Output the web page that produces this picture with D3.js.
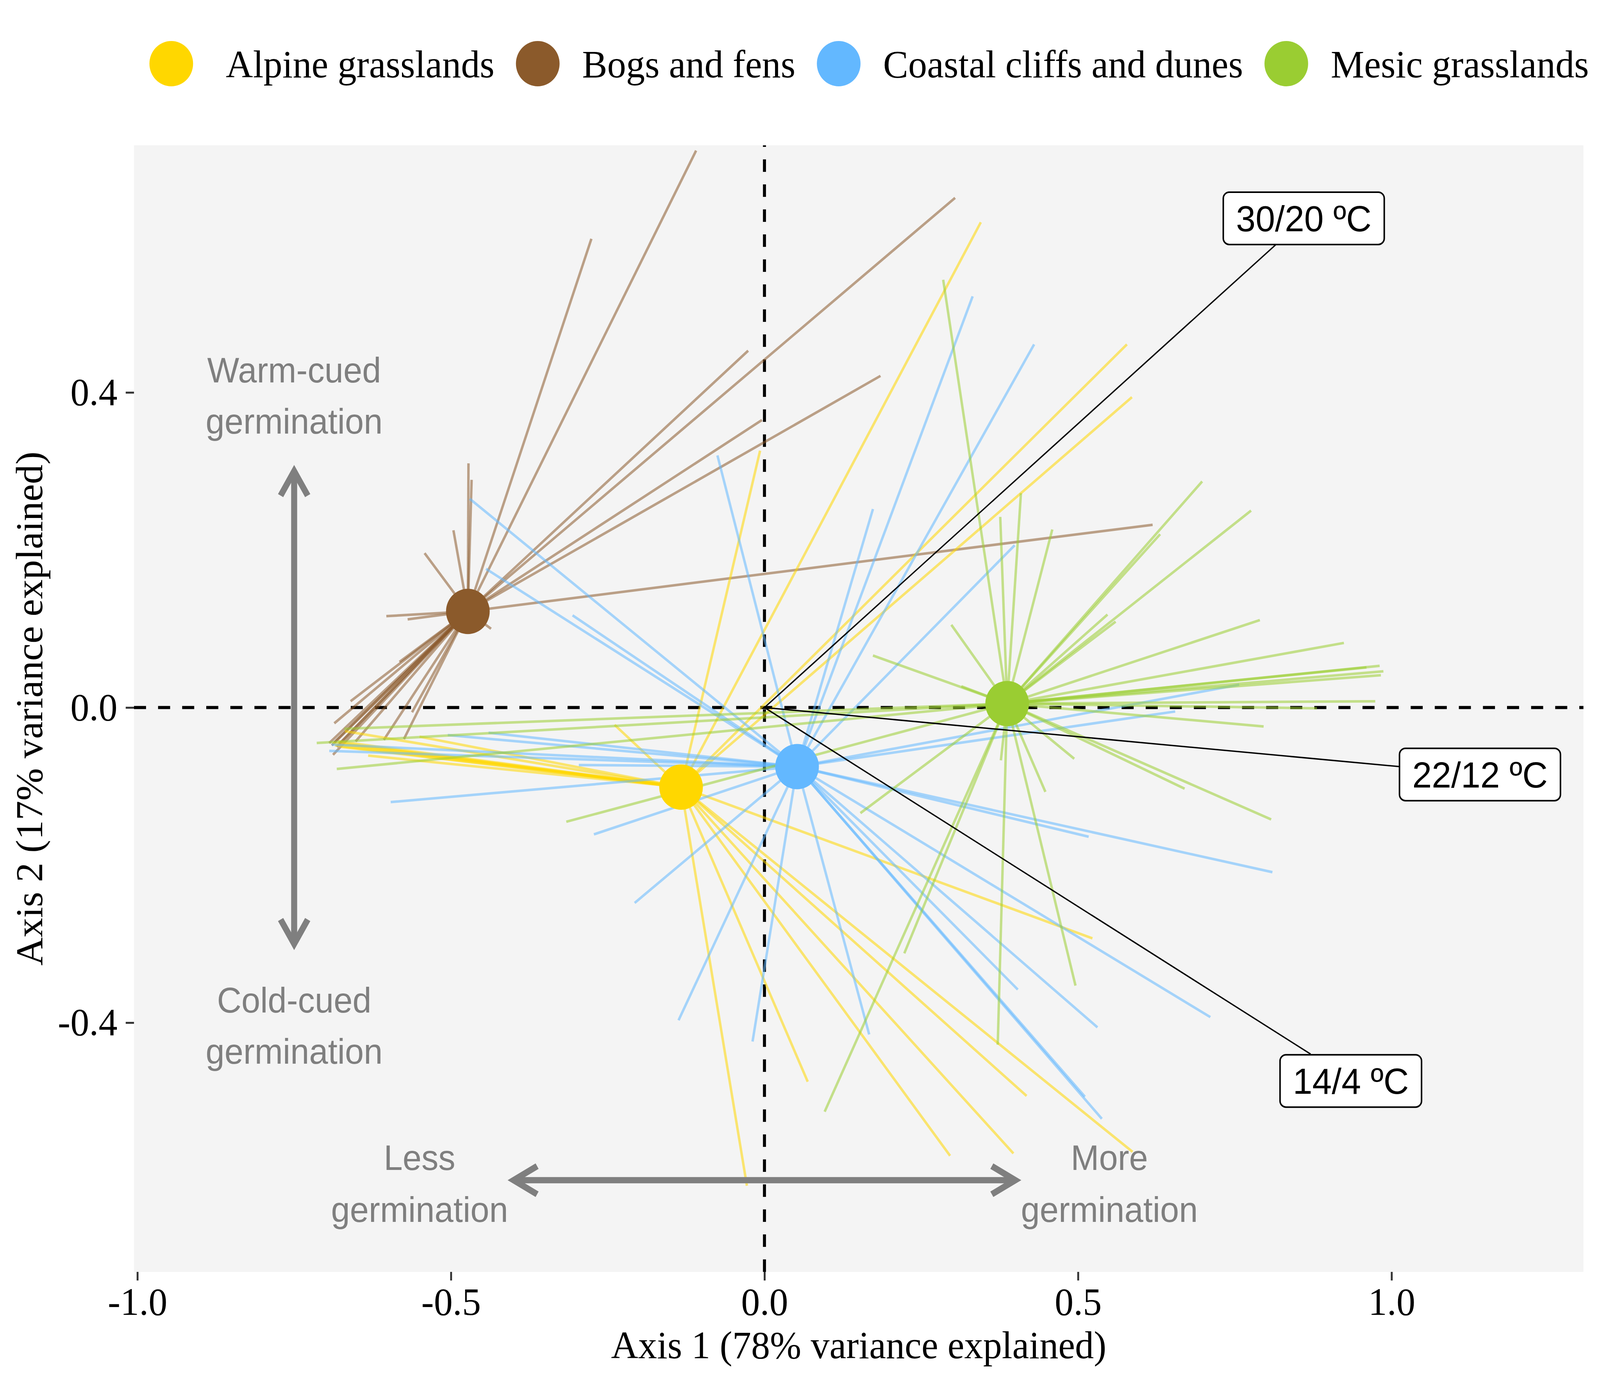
<!DOCTYPE html>
<html>
<head>
<meta charset="utf-8">
<script src="https://cdnjs.cloudflare.com/ajax/libs/d3/7.8.5/d3.min.js"></script>
<style>
  html, body { margin: 0; padding: 0; background: #ffffff; width: 100%; height: 100%; overflow: hidden; }
  #chart { width: 100vw; height: 100vh; }
  svg { display: block; width: 100%; height: 100%; }
</style>
</head>
<body>
<div id="chart"></div>
<script>
//groups
var groups = ["Alpine grasslands", "Bogs and fens", "Coastal cliffs and dunes", "Mesic grasslands"];
var groupColours = ["#FFD700", "#8B5A2B", "#63B8FF", "#9ACD32"];

//group centroids (axis 1, axis 2)
var centroids = [[-0.133, -0.101], [-0.473, 0.122], [0.052, -0.075], [0.387, 0.005]];

//species scores, one list per group
var alpineSpecies = [
    [-0.689, -0.045], [-0.685, -0.048], [-0.680, -0.043], [-0.675, -0.050], [-0.670, -0.046],
    [-0.669, -0.030], [-0.632, -0.061], [-0.550, -0.037], [-0.239, -0.022],
    [-0.007, 0.326], [0.345, 0.616], [0.578, 0.461], [0.586, 0.394],
    [-0.028, -0.607], [0.069, -0.475], [0.296, -0.569], [0.397, -0.566],
    [0.418, -0.493], [0.587, -0.564], [0.523, -0.293]
];
var bogSpecies = [
    [-0.109, 0.707], [-0.276, 0.595], [-0.026, 0.453], [-0.004, 0.365], [0.304, 0.647],
    [0.185, 0.421], [0.619, 0.232],
    [-0.472, 0.310], [-0.467, 0.289], [-0.496, 0.225], [-0.542, 0.196], [-0.603, 0.116],
    [-0.569, 0.112], [-0.436, 0.100],
    [-0.660, 0.008], [-0.582, 0.058], [-0.686, -0.020], [-0.694, -0.045], [-0.690, -0.048],
    [-0.686, -0.044], [-0.682, -0.050], [-0.678, -0.046], [-0.688, -0.060], [-0.652, -0.043],
    [-0.607, -0.041], [-0.575, -0.040], [-0.562, -0.006]
];
var coastalSpecies = [
    [-0.694, -0.055], [-0.690, -0.047], [-0.505, -0.035], [-0.440, -0.032], [-0.296, -0.073],
    [-0.596, -0.120], [-0.272, -0.161], [-0.207, -0.248], [-0.306, 0.117], [-0.470, 0.265],
    [-0.444, 0.176], [-0.075, 0.320],
    [0.173, 0.252], [0.332, 0.522], [0.430, 0.461], [0.399, 0.206],
    [0.757, 0.029], [0.655, -0.005], [0.517, -0.164], [0.810, -0.209],
    [0.711, -0.393], [0.531, -0.406], [0.404, -0.358], [0.511, -0.494], [0.538, -0.522],
    [0.167, -0.415], [-0.019, -0.424], [-0.137, -0.397]
];
var mesicSpecies = [
    [0.698, 0.287], [0.776, 0.250], [0.631, 0.220], [0.547, 0.118], [0.560, 0.109],
    [0.790, 0.111], [0.924, 0.082], [0.981, 0.053], [0.987, 0.046], [0.983, 0.041],
    [0.960, 0.051], [0.974, 0.008], [0.881, -0.001], [0.796, -0.024], [0.808, -0.142],
    [0.670, -0.103], [0.494, -0.065], [0.448, -0.107], [0.377, -0.067], [0.298, 0.105],
    [0.314, 0.027], [0.376, 0.242], [0.409, 0.272], [0.459, 0.226], [0.285, 0.543],
    [0.173, 0.066], [0.153, -0.134], [0.223, -0.312], [0.096, -0.513], [0.372, -0.428],
    [0.496, -0.353], [-0.316, -0.145], [-0.714, -0.045], [-0.682, -0.078], [-0.670, -0.027]
];

//temperature vectors and their labels
var tempLabels = ["30/20 ºC", "22/12 ºC", "14/4 ºC"];
var tempLineEnd = [[0.816, 0.588], [1.013, -0.075], [0.871, -0.440]];
var tempLabelPos = [[0.860, 0.621], [1.141, -0.085], [0.935, -0.474]];

//axis ticks
var xTicks = [-1, -0.5, 0, 0.5, 1];
var yTicks = [-0.4, 0, 0.4];

//svg
var width = 4251, height = 3543;
var panel = {left: 356, right: 4207, top: 372, bottom: 3256};
var serif = "'Liberation Serif', 'Times New Roman', serif";
var sans = "'Liberation Sans', Arial, sans-serif";
var grey = "#7F7F7F";

//fill the whole window with the 4251x3543 drawing
var svg = d3.select("#chart").append("svg")
    .attr("viewBox", "0 0 " + width + " " + height)
    .attr("preserveAspectRatio", "none");

svg.append("rect").attr("width", width).attr("height", height).attr("fill", "#ffffff");

//scales
var x = d3.scaleLinear().domain([-1.0054, 1.306]).range([panel.left, panel.right]);
var y = d3.scaleLinear().domain([-0.7164, 0.7137]).range([panel.bottom, panel.top]);

//panel
svg.append("rect")
    .attr("x", panel.left).attr("y", panel.top)
    .attr("width", panel.right - panel.left)
    .attr("height", panel.bottom - panel.top)
    .attr("fill", "#F4F4F4");

//dashed zero lines
svg.append("line")
    .attr("x1", panel.left).attr("x2", panel.right)
    .attr("y1", y(0)).attr("y2", y(0))
    .attr("stroke", "#000").attr("stroke-width", 8).attr("stroke-dasharray", "32,32");
svg.append("line")
    .attr("x1", x(0)).attr("x2", x(0))
    .attr("y1", panel.bottom).attr("y2", panel.top)
    .attr("stroke", "#000").attr("stroke-width", 8).attr("stroke-dasharray", "32,32");

//spokes from centroid to species
var speciesByGroup = [alpineSpecies, bogSpecies, coastalSpecies, mesicSpecies];
var spokes = [];
speciesByGroup.forEach(function(list, g) {
    list.forEach(function(p) {
        spokes.push({g: g, x0: centroids[g][0], y0: centroids[g][1], x1: p[0], y1: p[1]});
    });
});
//draw bogs first, then alpine, coastal, mesic
var drawOrder = [1, 0, 2, 3];
drawOrder.forEach(function(g) {
    svg.append("g").selectAll("line")
        .data(spokes.filter(function(d) { return d.g === g; }))
        .enter().append("line")
        .attr("x1", function(d) { return x(d.x0); })
        .attr("y1", function(d) { return y(d.y0); })
        .attr("x2", function(d) { return x(d.x1); })
        .attr("y2", function(d) { return y(d.y1); })
        .attr("stroke", groupColours[g])
        .attr("stroke-opacity", 0.55)
        .attr("stroke-width", 6.5);
});

//grey guide arrows
function arrowHead(tx, ty, ux, uy) {
    //tip at (tx,ty), (ux,uy) points back along the shaft
    var len = 72, a = Math.PI / 6;
    var c = Math.cos(a), s = Math.sin(a);
    var w1 = [tx + len * (ux * c - uy * s), ty + len * (ux * s + uy * c)];
    var w2 = [tx + len * (ux * c + uy * s), ty + len * (-ux * s + uy * c)];
    return "M" + w1[0] + "," + w1[1] + "L" + tx + "," + ty + "L" + w2[0] + "," + w2[1];
}
var guides = svg.append("g")
    .attr("stroke", grey).attr("stroke-width", 16).attr("fill", "none")
    .attr("stroke-linejoin", "miter").attr("stroke-miterlimit", 10);
//vertical
var vx = x(-0.75), vTop = y(0.3), vBot = y(-0.3);
guides.append("line").attr("x1", vx).attr("x2", vx).attr("y1", vTop).attr("y2", vBot);
guides.append("path").attr("d", arrowHead(vx, vTop, 0, 1));
guides.append("path").attr("d", arrowHead(vx, vBot, 0, -1));
//horizontal
var hy = y(-0.6), hLeft = x(-0.4), hRight = x(0.4);
guides.append("line").attr("x1", hLeft).attr("x2", hRight).attr("y1", hy).attr("y2", hy);
guides.append("path").attr("d", arrowHead(hLeft, hy, 1, 0));
guides.append("path").attr("d", arrowHead(hRight, hy, -1, 0));

//guide text
var notes = [
    {x: -0.75, y: 0.396, lines: ["Warm-cued", "germination"], gap: 131},
    {x: -0.75, y: -0.404, lines: ["Cold-cued", "germination"], gap: 131},
    {x: -0.55, y: -0.604, lines: ["Less", "germination"], gap: 133},
    {x: 0.55, y: -0.604, lines: ["More", "germination"], gap: 133}
];
notes.forEach(function(n) {
    var t = svg.append("text")
        .attr("x", x(n.x))
        .attr("text-anchor", "middle")
        .attr("font-family", sans)
        .attr("font-size", 90)
        .attr("fill", grey);
    n.lines.forEach(function(l, i) {
        t.append("tspan")
            .attr("x", x(n.x))
            .attr("y", y(n.y) + (i - 0.5) * n.gap + 32)
            .text(l);
    });
});

//centroids
svg.append("g").selectAll("circle")
    .data(centroids)
    .enter().append("circle")
    .attr("cx", function(d) { return x(d[0]); })
    .attr("cy", function(d) { return y(d[1]); })
    .attr("r", 58)
    .attr("fill", function(d, i) { return groupColours[i]; });

//temperature vectors
svg.append("g").selectAll("line")
    .data(tempLineEnd)
    .enter().append("line")
    .attr("x1", x(0)).attr("y1", y(0))
    .attr("x2", function(d) { return x(d[0]); })
    .attr("y2", function(d) { return y(d[1]); })
    .attr("stroke", "#000").attr("stroke-width", 3.5);

tempLabels.forEach(function(lab, i) {
    var cx = x(tempLabelPos[i][0]), cy = y(tempLabelPos[i][1]);
    var g = svg.append("g");
    var rect = g.append("rect");
    var t = g.append("text")
        .attr("x", cx).attr("y", cy + 33)
        .attr("text-anchor", "middle")
        .attr("font-family", sans)
        .attr("font-size", 93)
        .attr("fill", "#000")
        .text(lab);
    var w = t.node().getComputedTextLength() + 68;
    rect.attr("x", cx - w / 2).attr("y", cy - 67)
        .attr("width", w).attr("height", 134)
        .attr("rx", 16).attr("ry", 16)
        .attr("fill", "#fff").attr("stroke", "#000").attr("stroke-width", 4);
});

//axes
var fmt = function(d) { return d3.format(".1f")(d).replace("\u2212", "-"); };
var xAxis = svg.append("g")
    .attr("transform", "translate(0," + panel.bottom + ")")
    .call(d3.axisBottom(x).tickValues(xTicks).tickSize(22).tickPadding(17).tickFormat(fmt));
var yAxis = svg.append("g")
    .attr("transform", "translate(" + panel.left + ",0)")
    .call(d3.axisLeft(y).tickValues(yTicks).tickSize(22).tickPadding(22).tickFormat(fmt));
[xAxis, yAxis].forEach(function(a) {
    a.select(".domain").remove();
    a.selectAll(".tick line").attr("stroke", "#333333").attr("stroke-width", 5);
    a.selectAll(".tick text")
        .attr("font-family", serif).attr("font-size", 100).attr("fill", "#000");
});

//axis titles
svg.append("text")
    .attr("x", (panel.left + panel.right) / 2)
    .attr("y", 3477)
    .attr("text-anchor", "middle")
    .attr("font-family", serif).attr("font-size", 100).attr("fill", "#000")
    .text("Axis 1 (78% variance explained)");
svg.append("text")
    .attr("transform", "translate(112," + ((panel.top + panel.bottom) / 2) + ") rotate(-90)")
    .attr("text-anchor", "middle")
    .attr("font-family", serif).attr("font-size", 100).attr("fill", "#000")
    .text("Axis 2 (17% variance explained)");

//legend
var legend = svg.append("g");
var tx = 600;
groups.forEach(function(name, i) {
    legend.append("circle")
        .attr("cx", i === 0 ? tx - 145 : tx - 118).attr("cy", 163).attr("r", 58)
        .attr("fill", groupColours[i]);
    var t = legend.append("text")
        .attr("x", tx).attr("y", 198)
        .attr("font-family", serif).attr("font-size", 100).attr("fill", "#000")
        .text(name);
    tx = tx + t.node().getComputedTextLength() + 233;
});
</script>
</body>
</html>
